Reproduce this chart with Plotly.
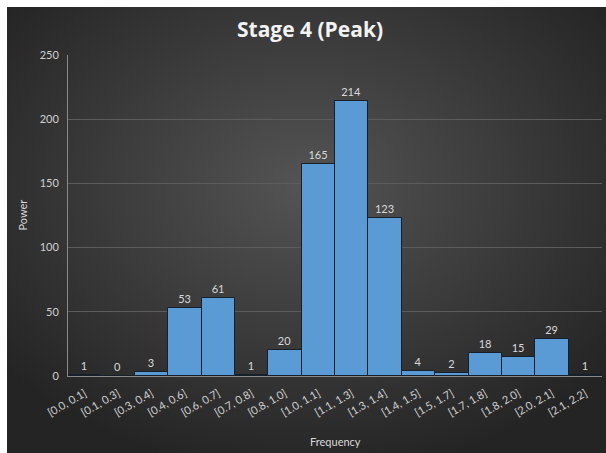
import base64
import plotly.graph_objects as go

categories = ["[0.0, 0.1]", "[0.1, 0.3]", "[0.3, 0.4]", "[0.4, 0.6]", "[0.6, 0.7]", "[0.7, 0.8]",
              "[0.8, 1.0]", "[1.0, 1.1]", "[1.1, 1.3]", "[1.3, 1.4]", "[1.4, 1.5]", "[1.5, 1.7]",
              "[1.7, 1.8]", "[1.8, 2.0]", "[2.0, 2.1]", "[2.1, 2.2]"]
power = [1, 0, 3, 53, 61, 1, 20, 165, 214, 123, 4, 2, 18, 15, 29, 1]
y_ticks = [0, 50, 100, 150, 200, 250]

W, H = 606, 453
L, R, T, B = 68, 4, 55, 77
pw, ph = W - L - R, H - T - B

def px_to_paper_x(px):
    return (px - L) / pw

def px_to_paper_y(py):
    return (H - B - py) / ph

svg = ('<svg xmlns="http://www.w3.org/2000/svg" width="600" height="446" viewBox="0 0 600 446" preserveAspectRatio="none">'
       '<defs><radialGradient id="g" cx="50%" cy="40%" r="65%">'
       '<stop offset="0%" stop-color="#545454"/><stop offset="100%" stop-color="#242424"/>'
       '</radialGradient></defs><rect width="600" height="446" fill="url(#g)"/></svg>')
bg_src = "data:image/svg+xml;base64," + base64.b64encode(svg.encode()).decode()

fig = go.Figure()
fig.add_trace(go.Bar(
    x=categories, y=power,
    marker=dict(color="#5b9bd5", line=dict(color="#15202b", width=1)),
    text=power, texttemplate="%{text}", textposition="outside",
    textfont=dict(color="#d9d9d9", size=11, family="Lato"),
    cliponaxis=False,
))

x0, x1 = px_to_paper_x(7), px_to_paper_x(606)
y0, y1 = px_to_paper_y(453), px_to_paper_y(7)

fig.update_layout(
    width=W, height=H,
    margin=dict(l=L, r=R, t=T, b=B),
    paper_bgcolor="white",
    plot_bgcolor="rgba(0,0,0,0)",
    bargap=0,
    showlegend=False,
    font=dict(family="Lato", color="#d9d9d9"),
    title=dict(text="<b>Stage 4 (Peak)</b>", x=(310 / W), xanchor="center",
               y=1 - 30 / H, yanchor="middle",
               font=dict(size=21, color="#f2f2f2", family="Open Sans")),
    images=[dict(source=bg_src, xref="paper", yref="paper", x=x0, y=y1,
                 sizex=x1 - x0, sizey=y1 - y0, sizing="stretch", layer="below",
                 xanchor="left", yanchor="top")],
    xaxis=dict(tickangle=-30, tickfont=dict(size=11, color="#d0d0d0"),
               showline=True, linecolor="#8a8a8a", linewidth=1,
               ticks="", ticklabelstandoff=6, showgrid=False),
    yaxis=dict(range=[0, 250], tickvals=y_ticks, tickfont=dict(size=11, color="#d0d0d0"),
               showline=True, linecolor="#8a8a8a", linewidth=1,
               gridcolor="#5c5c5c", gridwidth=1, zeroline=False, ticks="",
               ticklabelstandoff=6),
    annotations=[
        dict(text="Frequency", xref="paper", yref="paper", x=0.5, y=px_to_paper_y(441),
             showarrow=False, font=dict(size=11, color="#d9d9d9"), xanchor="center", yanchor="middle"),
        dict(text="Power", xref="paper", yref="paper", x=px_to_paper_x(22), y=0.5,
             showarrow=False, textangle=-90, font=dict(size=11, color="#d9d9d9"),
             xanchor="center", yanchor="middle"),
    ],
)

fig.write_html("out.html")
